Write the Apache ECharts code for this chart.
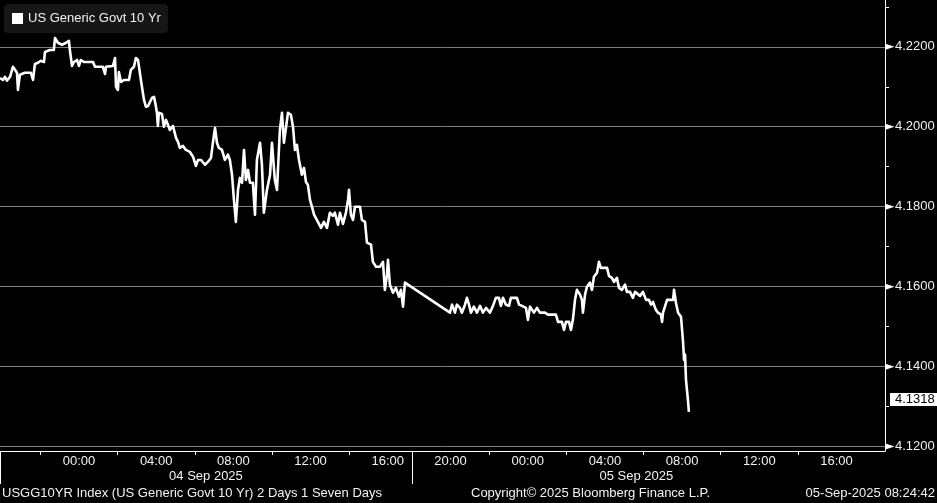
<!DOCTYPE html>
<html>
<head>
<meta charset="utf-8">
<script src="https://cdn.jsdelivr.net/npm/echarts@6/dist/echarts.min.js"></script>
<style>
html,body{margin:0;padding:0;background:#000;}
#chart{width:937px;height:503px;}
</style>
</head>
<body>
<div id="chart"></div>
<script>
// ---------------- data ----------------
const seriesName = 'US Generic Govt 10 Yr';
// clock hours since 04 Sep 2025 00:00
const timesSep4 = [
  -4.09,-3.94,-3.83,-3.73,-3.57,-3.47,-3.42,-3.32,-3.21,-3.16,
  -3.06,-2.80,-2.49,-2.38,-2.28,-2.12,-1.97,-1.81,-1.76,-1.61,
  -1.50,-1.30,-1.24,-1.14,-1.09,-0.88,-0.67,-0.57,-0.52,-0.47,
  -0.36,-0.26,-0.10,0.00,0.10,0.26,0.36,0.73,0.83,1.24,
  1.35,1.40,1.50,1.76,1.87,1.92,2.02,2.07,2.18,2.33,
  2.59,2.69,2.85,2.95,3.06,3.21,3.37,3.47,3.58,3.78,
  3.89,3.99,4.04,4.09,4.14,4.30,4.40,4.51,4.61,4.71,
  4.87,5.03,5.13,5.23,5.39,5.54,5.75,5.91,6.06,6.17,
  6.32,6.53,6.68,6.84,6.94,7.05,7.15,7.25,7.41,7.56,
  7.72,7.82,
  7.93,8.03,8.13,8.24,8.34,8.45,8.55,8.65,8.76,8.86,
  9.01,9.12,9.22,9.38,9.48,9.58,9.74,9.90,10.00,10.15,
  10.26,10.41,10.52,10.62,10.72,10.83,10.98,11.09,11.19,11.29,
  11.40,11.55,11.66,11.76,11.86,11.97,12.07,12.18,12.28,12.38,
  12.54,12.69,12.85,13.00,13.16,13.26,13.42,13.52,13.68,13.83,
  13.94,13.99,14.09,14.20,14.30,14.56,14.66,14.82,14.92,15.13,
  15.23,15.39,15.59,15.75,15.85,15.96,16.01,16.11,16.27,16.42,
  16.58,16.68,16.79,16.89
];
const yieldsSep4 = [
  4.2122,4.2117,4.2125,4.2115,4.2125,4.2120,4.2150,4.2152,4.2135,4.2092,
  4.2130,4.2135,4.2135,4.2117,4.2157,4.2160,4.2165,4.2162,4.2187,4.2190,
  4.2192,4.2192,4.2222,4.2227,4.2210,4.2205,4.2210,4.2207,4.2215,4.2192,
  4.2152,4.2162,4.2167,4.2152,4.2167,4.2162,4.2167,4.2162,4.2150,4.2150,
  4.2132,4.2150,4.2150,4.2152,4.2172,4.2100,4.2092,4.2137,4.2112,4.2117,
  4.2117,4.2142,4.2150,4.2172,4.2167,4.2117,4.2067,4.2050,4.2052,4.2072,
  4.2075,4.2050,4.2035,4.2002,4.2035,4.2032,4.2000,4.2017,4.2005,4.1992,
  4.2002,4.1972,4.1962,4.1947,4.1952,4.1942,4.1937,4.1925,4.1902,4.1917,
  4.1917,4.1905,4.1912,4.1922,4.1960,4.1997,4.1960,4.1947,4.1942,4.1917,
  4.1930,4.1917,
  4.1880,4.1817,4.1762,4.1842,4.1872,4.1860,4.1942,4.1867,4.1892,4.1860,
  4.1860,4.1780,4.1917,4.1960,4.1905,4.1785,4.1842,4.1880,4.1960,4.1867,
  4.1842,4.1992,4.2035,4.1960,4.1960,4.2035,4.2030,4.2000,4.1942,4.1955,
  4.1917,4.1880,4.1897,4.1862,4.1855,4.1817,4.1800,4.1780,4.1785,4.1762,
  4.1747,4.1762,4.1747,4.1785,4.1777,4.1785,4.1755,4.1785,4.1757,4.1785,
  4.1817,4.1842,4.1780,4.1767,4.1800,4.1800,4.1767,4.1762,4.1710,4.1705,
  4.1662,4.1650,4.1650,4.1662,4.1592,4.1630,4.1667,4.1605,4.1585,4.1597,
  4.1575,4.1592,4.1550,4.1610
];
const timesSep5 = [
  19.97,20.08,20.23,20.33,20.49,20.59,20.75,20.85,20.96,21.06,
  21.21,21.37,21.53,21.68,21.84,22.04,22.20,22.35,22.51,22.61,
  22.72,22.87,23.03,23.13,23.44,23.55,23.70,23.91,24.01,24.12,
  24.32,24.48,24.63,24.89,25.05,25.46,25.57,25.77,25.88,25.98,
  26.14,26.24,26.34,26.45,26.55,26.71,26.81,26.86,26.97,27.07,
  27.22,27.33,27.43,27.59,27.69,27.79,27.90,28.11,28.21,28.36,
  28.47,28.62,28.73,28.88,29.04,29.14,29.30,29.45,29.56,29.82,
  29.97,30.13,30.28,30.39,30.49,30.64,30.75,30.90,30.96,31.01,
  31.11,31.22,31.37,31.53,31.58,31.68,31.79,31.94,32.04,32.10,
  32.15,32.20,32.25,32.30,32.35
];
const yieldsSep5 = [
  4.1535,4.1555,4.1535,4.1555,4.1547,4.1535,4.1555,4.1572,4.1555,4.1535,
  4.1550,4.1535,4.1552,4.1535,4.1547,4.1535,4.1552,4.1572,4.1572,4.1552,
  4.1572,4.1555,4.1552,4.1572,4.1572,4.1555,4.1552,4.1547,4.1517,4.1550,
  4.1535,4.1547,4.1535,4.1535,4.1530,4.1530,4.1512,4.1512,4.1492,4.1512,
  4.1512,4.1492,4.1517,4.1567,4.1592,4.1580,4.1567,4.1535,4.1580,4.1600,
  4.1610,4.1592,4.1625,4.1635,4.1662,4.1647,4.1647,4.1647,4.1627,4.1622,
  4.1612,4.1622,4.1597,4.1592,4.1605,4.1587,4.1587,4.1572,4.1587,4.1577,
  4.1587,4.1567,4.1567,4.1555,4.1562,4.1542,4.1535,4.1530,4.1512,4.1535,
  4.1535,4.1567,4.1567,4.1567,4.1592,4.1560,4.1535,4.1525,4.1467,4.1417,
  4.1430,4.1367,4.1342,4.1317,4.1287
];
const lastValue = 4.1318;

// axis definitions
const sessionBreak = [17.25, 18.0];          // 17:15 - 18:00 removed from the axis
const xStart = -4.09, xEnd = 42.51;          // clock hours at the plot edges
const xLabelHours = [0, 4, 8, 12, 16, 20, 24, 28, 32, 36, 40];
const xLabelTexts = ['00:00','04:00','08:00','12:00','16:00','20:00','00:00','04:00','08:00','12:00','16:00'];
const xTickHours = [-2, 2, 6, 10, 14, 22, 26, 30, 34, 38];
const dateLabels = ['04 Sep 2025', '05 Sep 2025'];
const sessionEdges = [[-4.09, 17.25], [18.0, 41.25]];
const yMin = 4.1189, yMax = 4.2317;
const yLabelValues = [4.12, 4.14, 4.16, 4.18, 4.20, 4.22];
const yMinorValues = [4.13, 4.15, 4.17, 4.19, 4.21, 4.23];
const footerLeft = 'USGG10YR Index (US Generic Govt 10 Yr) 2 Days 1 Seven Days';
const footerMid = 'Copyright\u00A9 2025 Bloomberg Finance L.P.';
const footerRight = '05-Sep-2025 08:24:42';

// ---------------- build ----------------
const gap = sessionBreak[1] - sessionBreak[0];
function tradingHour(h) { return h <= sessionBreak[0] ? h : h - gap; }

const times = timesSep4.concat(timesSep5);
const yields = yieldsSep4.concat(yieldsSep5);
const lineData = times.map((h, i) => [tradingHour(h), yields[i]]);

const xLabelPos = xLabelHours.map(tradingHour);
const xLabelMap = {};
xLabelPos.forEach((p, i) => { xLabelMap[p.toFixed(2)] = xLabelTexts[i]; });
const datePos = sessionEdges.map(s => (tradingHour(s[0]) + tradingHour(s[1])) / 2);
const dateMap = {};
datePos.forEach((p, i) => { dateMap[p.toFixed(3)] = dateLabels[i]; });
const separatorPos = [tradingHour(xStart), tradingHour(sessionBreak[0])];

const FONT = 'Liberation Sans';
const TXT = '#f2f2f2';
const xMin = tradingHour(xStart), xMax = tradingHour(xEnd);

const chart = echarts.init(document.getElementById('chart'), null, {renderer: 'canvas'});
chart.setOption({
  backgroundColor: '#000',
  animation: false,
  textStyle: {fontFamily: FONT},
  title: [
    {text: footerLeft, left: 2, top: 487, padding: 0, textStyle: {color: TXT, fontSize: 13, fontWeight: 'normal', fontFamily: FONT}},
    {text: footerMid, left: 471, top: 487, padding: 0, textStyle: {color: TXT, fontSize: 13, fontWeight: 'normal', fontFamily: FONT}},
    {text: footerRight, right: 2, top: 487, padding: 0, textStyle: {color: TXT, fontSize: 13, fontWeight: 'normal', fontFamily: FONT}}
  ],
  legend: {
    data: [seriesName], left: 4, top: 4, padding: [8, 7, 8, 8],
    backgroundColor: '#161616', borderRadius: 4,
    icon: 'rect', itemWidth: 11, itemHeight: 11,
    textStyle: {color: TXT, fontSize: 13, fontFamily: FONT}
  },
  grid: {left: 0, right: 52, top: 0, bottom: 52, containLabel: false, outerBoundsMode: 'none'},
  xAxis: [
    {
      type: 'value', min: xMin, max: xMax, position: 'bottom',
      axisLine: {show: true, onZero: false, lineStyle: {color: '#ffffff', width: 1}},
      axisTick: {show: true, customValues: xTickHours.map(tradingHour), length: 4, lineStyle: {color: '#ffffff'}},
      axisLabel: {customValues: xLabelPos, margin: 4, color: TXT, fontSize: 13, fontFamily: FONT,
        formatter: v => xLabelMap[Number(v).toFixed(2)] || ''},
      splitLine: {show: false}
    },
    {
      type: 'value', min: xMin, max: xMax, position: 'bottom',
      axisLine: {show: false, onZero: false},
      axisTick: {show: true, customValues: separatorPos, length: 33, lineStyle: {color: '#ffffff'}},
      axisLabel: {customValues: datePos, margin: 19, color: TXT, fontSize: 13, fontFamily: FONT,
        formatter: v => dateMap[Number(v).toFixed(3)] || ''},
      splitLine: {show: false}
    }
  ],
  yAxis: [
    {
      type: 'value', min: yMin, max: yMax, position: 'right',
      axisLine: {show: true, onZero: false, lineStyle: {color: '#ffffff', width: 1}},
      axisTick: {show: true, inside: false, customValues: yMinorValues, length: 4, lineStyle: {color: '#ffffff'}},
      axisLabel: {show: false},
      splitLine: {show: false}
    },
    {
      type: 'value', min: yMin, max: yMax, position: 'right',
      axisLine: {show: false, onZero: false},
      axisTick: {show: false, customValues: yLabelValues},
      axisLabel: {
        customValues: yLabelValues, margin: 10, color: TXT, fontSize: 13, fontFamily: FONT,
        formatter: v => Number(v).toFixed(4)
      },
      splitLine: {show: true, lineStyle: {color: '#808080', width: 1}}
    },
    {
      type: 'value', min: yMin, max: yMax, position: 'right',
      axisLine: {show: false, onZero: false},
      axisTick: {show: false, customValues: [lastValue]},
      axisLabel: {
        customValues: [lastValue], margin: 5,
        formatter: v => '{b|' + Number(v).toFixed(4) + '}',
        rich: {
          b: {fontFamily: FONT, fontSize: 13, color: '#000', backgroundColor: '#ffffff',
              lineHeight: 14, padding: [0, 6, 0, 5]}
        }
      },
      splitLine: {show: false}
    }
  ],
  series: [{
    name: seriesName, type: 'line', xAxisIndex: 0, yAxisIndex: 0,
    data: lineData, showSymbol: false, symbol: 'none',
    color: '#ffffff',
    itemStyle: {color: '#ffffff'},
    lineStyle: {color: '#ffffff', width: 2.6, join: 'round'},
    markPoint: {
      silent: true,
      symbol: 'triangle', symbolSize: [6, 9], symbolRotate: -90, symbolOffset: [5, 0],
      itemStyle: {color: '#ffffff'},
      label: {show: false},
      data: yLabelValues.map(v => ({coord: [xMax, v]}))
    }
  }]
});
</script>
</body>
</html>
